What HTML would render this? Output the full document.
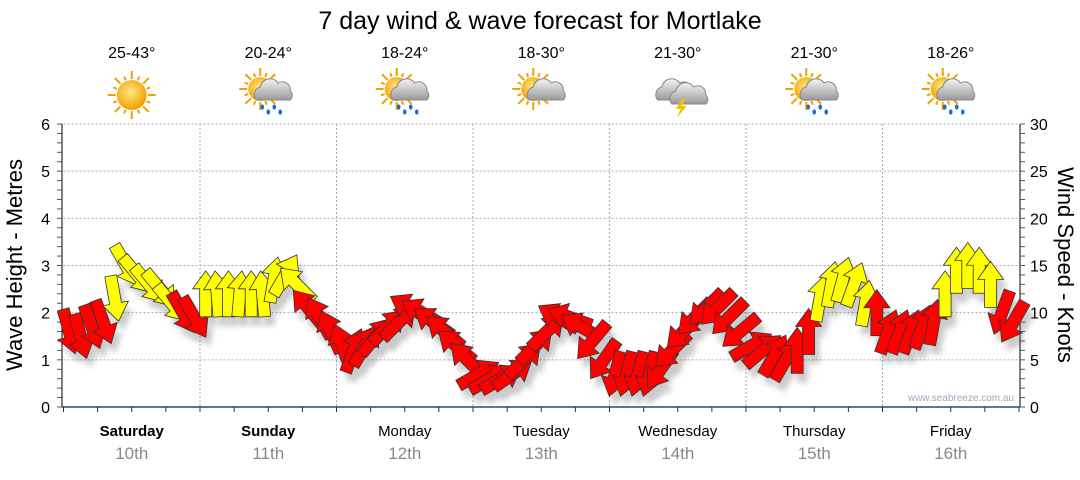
<!DOCTYPE html>
<html><head><meta charset="utf-8"><style>
body{margin:0;background:#fff;width:1080px;height:475px;overflow:hidden;font-family:"Liberation Sans",sans-serif}
</style></head><body>
<svg id="chart" width="1080" height="475" xmlns="http://www.w3.org/2000/svg" font-family="Liberation Sans, sans-serif">
<defs>
<filter id="sh" x="-50%" y="-50%" width="200%" height="200%"><feGaussianBlur stdDeviation="3"/></filter>
<radialGradient id="sun" cx="45%" cy="40%" r="60%"><stop offset="0" stop-color="#ffe680"/><stop offset="1" stop-color="#f0a000"/></radialGradient>
<linearGradient id="cloud" x1="0" y1="0" x2="0" y2="1"><stop offset="0" stop-color="#f4f4f4"/><stop offset="1" stop-color="#9a9a9a"/></linearGradient>
</defs>
<text x="540" y="29" font-size="25" text-anchor="middle" fill="#000">7 day wind &amp; wave forecast for Mortlake</text>
<g id="grid"></g><g id="axes"></g><g id="icons"></g><g id="shadows" opacity="0.3"></g><g id="arrows"></g>
<text x="1014" y="401" font-size="10" text-anchor="end" fill="#9aaabb">www.seabreeze.com.au</text>
<text transform="translate(22,265) rotate(-90)" font-size="22" text-anchor="middle">Wave Height - Metres</text>
<text transform="translate(1058,265) rotate(90)" font-size="22" text-anchor="middle">Wind Speed - Knots</text>
</svg>
<script>
const days=["Saturday","Sunday","Monday","Tuesday","Wednesday","Thursday","Friday"];
const dates=["10th","11th","12th","13th","14th","15th","16th"];
const temps=["25-43°","20-24°","18-24°","18-30°","21-30°","21-30°","18-26°"];
const icons=["sun","rain","rain","cloud","storm","rain","rain"];
const leftTicks=[0,1,2,3,4,5,6];
const rightTicks=[0,5,10,15,20,25,30];
const wind=[8,7.5,8.5,9,11.5,15,14,13,12.5,11,10,9.5,
12,12,12,12,12,12,13.5,14,13,10.5,9.5,8,
6.5,6,6.5,7.5,8.5,9,10.5,10,9,8,6.5,5,
3.5,3,3,3.5,5,6.5,8,9.5,9.5,8.5,7,5,
3.5,3.5,3.5,3.5,4,6,8,9.5,10.5,10.5,9.5,8,
6.5,6,5.5,5,6,8,11.5,13,13.5,13,11,10,
8,8,8,8.5,9,12,14.5,15,14.5,13,10,9];
const dir=[165,165,160,160,170,150,140,140,140,140,150,150,
0,355,0,5,0,355,10,30,315,320,330,335,
340,20,30,40,45,45,300,300,305,310,310,315,
60,60,60,55,45,45,45,300,290,300,220,215,
195,195,195,195,215,225,225,225,225,225,225,230,
60,50,30,30,0,0,10,10,15,20,10,0,
20,20,20,20,10,0,0,0,0,0,200,210];
const hours=wind.map((_,i)=>2*i+1);

const X0=63.5,DW=136.5,Y0=407,YT=124;
const xh=h=>X0+h/24*DW;
const yM=m=>Y0-(Y0-YT)*m/6;
const yK=k=>Y0-(Y0-YT)*k/30;
const NS="http://www.w3.org/2000/svg";
function mk(tag,attrs,parent,txt){const e=document.createElementNS(NS,tag);for(const k in attrs)e.setAttribute(k,attrs[k]);if(txt!==undefined)e.textContent=txt;document.getElementById(parent).appendChild(e);return e;}

leftTicks.forEach(t=>{if(t>0){const g=mk('line',{x1:X0,x2:1019,y1:yM(t),y2:yM(t),stroke:'#aaa','stroke-dasharray':'2,2'},'grid');

}});
for(let d=1;d<7;d++){const g=mk('line',{x1:X0+d*DW,x2:X0+d*DW,y1:YT,y2:Y0,stroke:'#aaa','stroke-dasharray':'2,2'},'grid');

}
const la=mk('line',{x1:62,x2:62,y1:YT,y2:Y0,stroke:'#000'},'axes');


const ra=mk('line',{x1:1020,x2:1020,y1:YT,y2:Y0,stroke:'#000'},'axes');


const ba=mk('line',{x1:62,x2:1020,y1:Y0,y2:Y0,stroke:'#1f4e79','stroke-width':1.5},'axes');


for(let m=0;m<=30;m++){const v=m/5;mk('line',{x1:57,x2:62,y1:yM(v),y2:yM(v),stroke:'#555'},'axes');}
leftTicks.forEach(t=>{const l=mk('text',{x:50,y:yM(t)+6,'font-size':16,'text-anchor':'end'},'axes',t);

});
for(let k=0;k<=30;k++){mk('line',{x1:1020,x2:1025,y1:yK(k),y2:yK(k),stroke:'#555'},'axes');}
rightTicks.forEach(t=>{const l=mk('text',{x:1030,y:yK(t)+6,'font-size':16},'axes',t);

});
for(let h=0;h<=168;h+=6){mk('line',{x1:xh(h),x2:xh(h),y1:Y0,y2:Y0+5,stroke:'#333'},'axes');}
days.forEach((d,i)=>{const cx=X0+(i+0.5)*DW;
const t=mk('text',{x:cx,y:436,'font-size':15,'text-anchor':'middle','font-weight':i<2?'bold':'normal'},'axes',d);


const dt=mk('text',{x:cx,y:459,'font-size':17,'text-anchor':'middle',fill:'#888'},'axes',dates[i]);


const tp=mk('text',{x:cx,y:58,'font-size':16,'text-anchor':'middle'},'axes',temps[i]);


const g=mk('g',{transform:`translate(${cx},95)`},'icons');


const type=icons[i];
if(type!=='storm'){const sx=type==='sun'?0:-8,sy=type==='sun'?0:-6,r=type==='sun'?15:12;
for(let a=0;a<360;a+=22.5){const rr=a%45===0?r+9:r+5;const e=document.createElementNS(NS,'line');
e.setAttribute('x1',sx+Math.sin(a*Math.PI/180)*(r+1));e.setAttribute('y1',sy-Math.cos(a*Math.PI/180)*(r+1));
e.setAttribute('x2',sx+Math.sin(a*Math.PI/180)*rr);e.setAttribute('y2',sy-Math.cos(a*Math.PI/180)*rr);
e.setAttribute('stroke','#f0a000');e.setAttribute('stroke-width',2);g.appendChild(e);}
const c=document.createElementNS(NS,'circle');c.setAttribute('cx',sx);c.setAttribute('cy',sy);c.setAttribute('r',r);c.setAttribute('fill','url(#sun)');g.appendChild(c);}
if(type!=='sun'){const cl=document.createElementNS(NS,'path');
const ox=type==='storm'?-6:2;
cl.setAttribute('d',`M${ox-14} ${5} a8 8 0 0 1 4 -13 a10 10 0 0 1 18 -4 a8 8 0 0 1 12 8 a6 6 0 0 1 0 9 z`);
cl.setAttribute('fill','url(#cloud)');cl.setAttribute('stroke','#888');g.appendChild(cl);
if(type==='storm'){const c2=cl.cloneNode();c2.setAttribute('transform','translate(14,4)');g.appendChild(c2);
const b=document.createElementNS(NS,'path');b.setAttribute('d','M4 4 l-6 10 h5 l-4 9 l10 -12 h-5 l4 -7 z');b.setAttribute('fill','#f5c000');g.appendChild(b);}
if(type==='rain'){for(let j=0;j<4;j++){const dr=document.createElementNS(NS,'ellipse');dr.setAttribute('cx',-6+j*6);dr.setAttribute('cy',12+(j%2)*5);dr.setAttribute('rx',1.8);dr.setAttribute('ry',2.6);dr.setAttribute('fill','#1e6ec8');g.appendChild(dr);}}}
});
const shape="M0,-23 L13,-5 L6,-5 L6,23 L-6,23 L-6,-5 L-13,-5 Z";
hours.forEach((h,i)=>{const x=xh(h),y=yK(wind[i]);
const s=mk('path',{d:shape,transform:`translate(${x+5},${y+9}) rotate(${dir[i]})`,fill:'#555',filter:'url(#sh)'},'shadows');


const a=mk('path',{d:shape,transform:`translate(${x},${y}) rotate(${dir[i]})`,fill:wind[i]>=11?'#ffff00':'#ff0000',stroke:'#333','stroke-width':0.8},'arrows');

});
</script>
</body></html>
